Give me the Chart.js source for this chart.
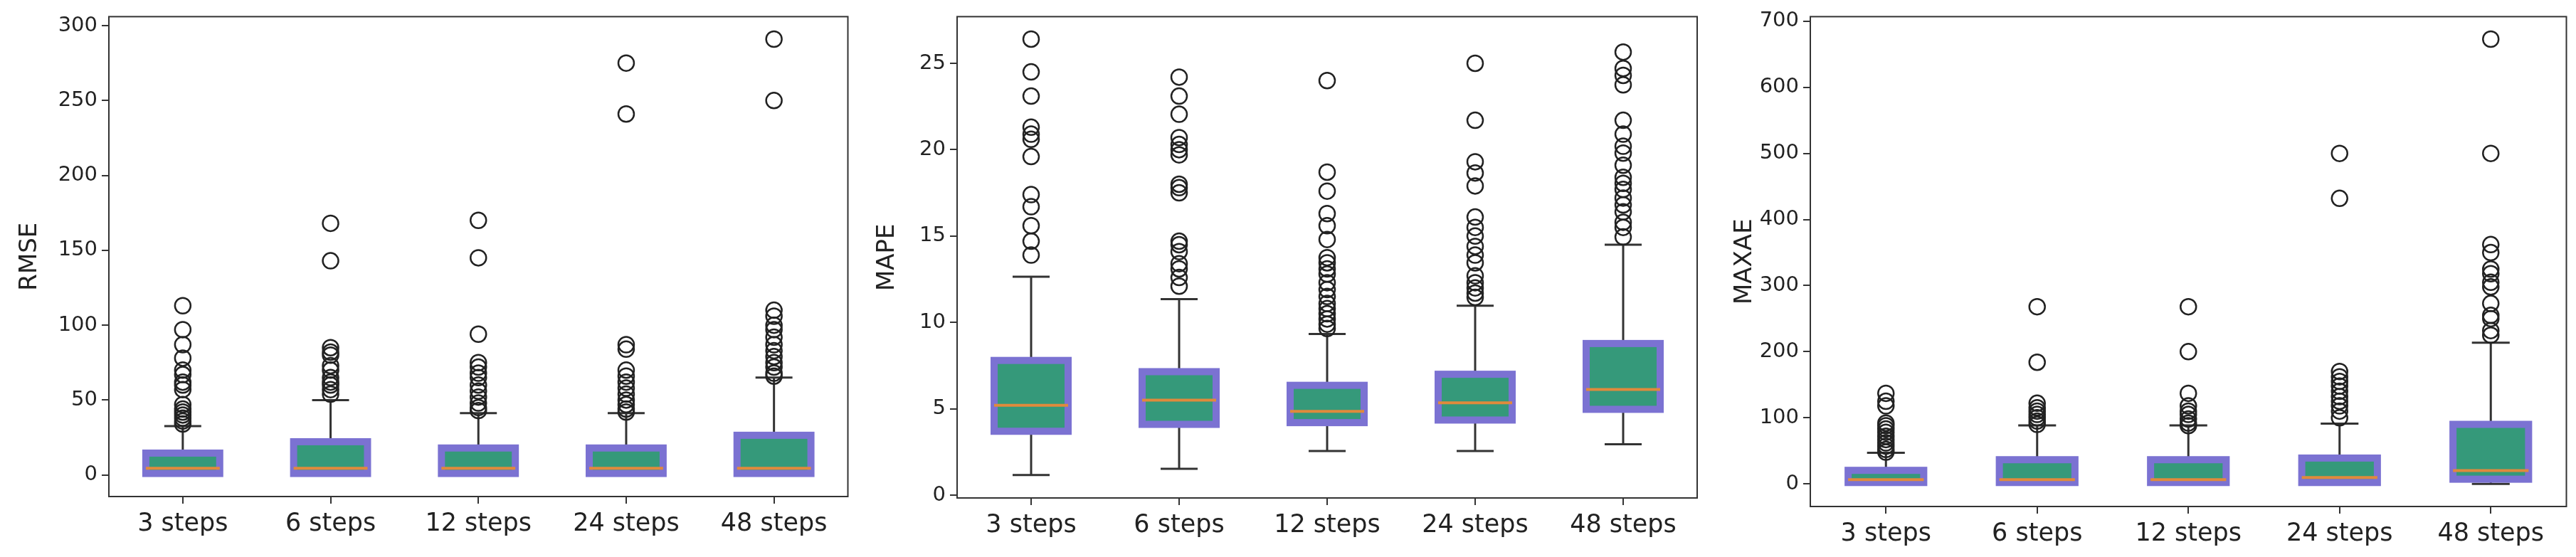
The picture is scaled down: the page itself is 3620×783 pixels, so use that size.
<!DOCTYPE html>
<html><head><meta charset="utf-8">
<script src="https://cdn.jsdelivr.net/npm/chart.js@4"></script>
<style>
html,body{margin:0;padding:0;background:#fff;width:3620px;height:783px;overflow:hidden}
.c{position:absolute;top:0;height:783px}
</style></head><body>
<div class="c" style="left:0;width:1205px"><canvas id="c1"></canvas></div>
<div class="c" style="left:1205px;width:1205px"><canvas id="c2"></canvas></div>
<div class="c" style="left:2410px;width:1210px"><canvas id="c3"></canvas></div>
<script>
const categories = ['3 steps','6 steps','12 steps','24 steps','48 steps'];

// RMSE
const rmseQ1 = [1, 1, 1, 1, 1];
const rmseMed = [4.5, 4.5, 4.5, 4.5, 4.5];
const rmseQ3 = [14.6, 22.2, 18, 18, 26.5];
const rmseLo = [0, 0, 0, 0, 0];
const rmseHi = [32.6, 50, 41.3, 41.3, 65];
const rmseOut = [
  [113,97,87,78,70,67,62,60,57,47,44,42,40,38,36,34],
  [168,143,85,82,80,73,70,65,62,60,57,54],
  [170,145,94,75,72,68,65,60,56,52,48,45,43],
  [275,241,87,84,70,66,62,58,54,50,47,44,42],
  [291,250,110,106,100,97,92,87,83,79,75,72,68,66]
];
const rmseTicks = [0,50,100,150,200,250,300];

// MAPE
const mapeQ1 = [3.7, 4.1, 4.2, 4.35, 4.97];
const mapeMed = [5.2, 5.5, 4.85, 5.35, 6.12];
const mapeQ3 = [7.8, 7.15, 6.36, 7.0, 8.78];
const mapeLo = [1.17, 1.53, 2.56, 2.56, 2.95];
const mapeHi = [12.65, 11.35, 9.33, 10.97, 14.5];
const mapeOut = [
  [26.4,24.5,23.1,21.3,20.9,20.6,19.6,17.4,16.7,15.6,14.7,13.9],
  [24.2,23.1,22.05,20.7,20.3,20.0,19.7,18.0,17.8,17.5,14.7,14.5,14.1,13.4,13.1,12.6,12.1],
  [24.0,18.7,17.6,16.3,15.6,14.8,13.75,13.45,13.1,12.8,12.3,11.9,11.5,11.1,10.8,10.5,10.2,9.9,9.65],
  [25.0,21.7,19.3,18.65,17.9,16.1,15.5,15.0,14.4,13.9,13.45,12.7,12.3,12.0,11.7,11.45],
  [25.65,24.7,24.3,23.75,21.7,20.9,20.2,19.8,19.1,18.4,18.05,17.7,17.2,16.8,16.4,15.8,15.5,14.95]
];
const mapeTicks = [0,5,10,15,20,25];

// MAXAE
const maxQ1 = [2, 2, 2, 2, 7];
const maxMed = [6.4, 6.4, 6.4, 9.7, 20];
const maxQ3 = [20.4, 36.5, 36.5, 39, 90];
const maxLo = [0, 0, 0, 0, 0];
const maxHi = [47, 88.5, 88.5, 91, 213.5];
const maxOut = [
  [137,125,118,92,88,83,78,72,67,62,57,52,48],
  [268,184,122,115,110,105,100,95,90],
  [268,200,137,118,110,105,98,92,88],
  [500,432,170,162,155,148,140,132,125,118,110,100],
  [673,500,362,350,325,318,305,298,273,255,250,232,225]
];
const maxTicks = [0,100,200,300,400,500,600,700];

const FONT = "'DejaVu Sans', sans-serif";

const boxPlugin = {
  id: 'boxes',
  beforeDatasetsDraw(chart) {
    const b = chart.options.plugins.boxes;
    const x = chart.scales.x, y = chart.scales.y, ctx = chart.ctx;
    const bw = (x.getPixelForValue(1) - x.getPixelForValue(0));
    ctx.save();
    for (let i = 0; i < categories.length; i++) {
      const cx = x.getPixelForValue(i);
      const half = bw * 0.25, cap = bw * 0.125;
      const pq1 = y.getPixelForValue(b.q1[i]), pq3 = y.getPixelForValue(b.q3[i]);
      const plo = y.getPixelForValue(b.lo[i]), phi = y.getPixelForValue(b.hi[i]);
      ctx.strokeStyle = '#333'; ctx.lineWidth = 3;
      ctx.beginPath();
      ctx.moveTo(cx, pq3); ctx.lineTo(cx, phi);
      ctx.moveTo(cx, pq1); ctx.lineTo(cx, plo);
      ctx.moveTo(cx - cap, phi); ctx.lineTo(cx + cap, phi);
      ctx.moveTo(cx - cap, plo); ctx.lineTo(cx + cap, plo);
      ctx.stroke();
      ctx.fillStyle = '#35997A';
      ctx.fillRect(cx - half, pq3, half * 2, pq1 - pq3);
      ctx.strokeStyle = '#7B72D2'; ctx.lineWidth = 10;
      ctx.strokeRect(cx - half, pq3, half * 2, pq1 - pq3);
      const pm = y.getPixelForValue(b.med[i]);
      ctx.strokeStyle = '#E08A3C'; ctx.lineWidth = 4;
      ctx.beginPath(); ctx.moveTo(cx - half, pm); ctx.lineTo(cx + half, pm); ctx.stroke();
    }
    ctx.restore();
  },
  afterDraw(chart) {
    const a = chart.chartArea, ctx = chart.ctx;
    ctx.save(); ctx.strokeStyle = '#333'; ctx.lineWidth = 2;
    ctx.strokeRect(a.left, a.top, a.right - a.left, a.bottom - a.top);
    ctx.restore();
  }
};

function make(id, label, q1, med, q3, lo, hi, out, ticks, ymin, ymax, yw, pr, pt, xh) {
  const pts = [];
  out.forEach((arr, i) => arr.forEach(v => pts.push({x: categories[i], y: v})));
  new Chart(document.getElementById(id), {
    type: 'scatter',
    data: { labels: categories, datasets: [{ data: pts, pointRadius: 11, pointBorderWidth: 2.5,
      pointBorderColor: '#222', pointBackgroundColor: 'rgba(0,0,0,0)', pointHoverRadius: 11 }] },
    options: {
      responsive: true, maintainAspectRatio: false, animation: false,
      layout: { padding: { left: 18, right: pr, top: pt, bottom: 0 } },
      plugins: { legend: { display: false }, tooltip: { enabled: false },
        boxes: { q1, med, q3, lo, hi } },
      scales: {
        x: { type: 'category', labels: categories, offset: true,
          grid: { display: true, drawOnChartArea: false, color: '#333', tickLength: 10, lineWidth: 2, offset: false },
          border: { display: false },
          ticks: { color: '#222', font: { family: FONT, size: 35 }, padding: 8 },
          afterFit(s) { s.height = xh; } },
        y: { min: ymin, max: ymax,
          afterBuildTicks(s) { s.ticks = ticks.map(v => ({ value: v })); },
          grid: { display: true, drawOnChartArea: false, color: '#333', tickLength: 10, lineWidth: 2 },
          border: { display: false },
          ticks: { color: '#222', font: { family: FONT, size: 29 }, padding: 6 },
          title: { display: true, text: label, color: '#222', font: { family: FONT, size: 34 }, padding: 4 },
          afterFit(s) { s.width = yw - 18; } }
      }
    },
    plugins: [boxPlugin]
  });
}

make('c1', 'RMSE', rmseQ1, rmseMed, rmseQ3, rmseLo, rmseHi, rmseOut, rmseTicks, -14.4, 306, 153, 12, 20, 85);
make('c2', 'MAPE', mapeQ1, mapeMed, mapeQ3, mapeLo, mapeHi, mapeOut, mapeTicks, -0.16, 27.7, 140, 25, 19, 83);
make('c3', 'MAXAE', maxQ1, maxMed, maxQ3, maxLo, maxHi, maxOut, maxTicks, -34.3, 707, 134, 7, 21, 71);
</script></body></html>
